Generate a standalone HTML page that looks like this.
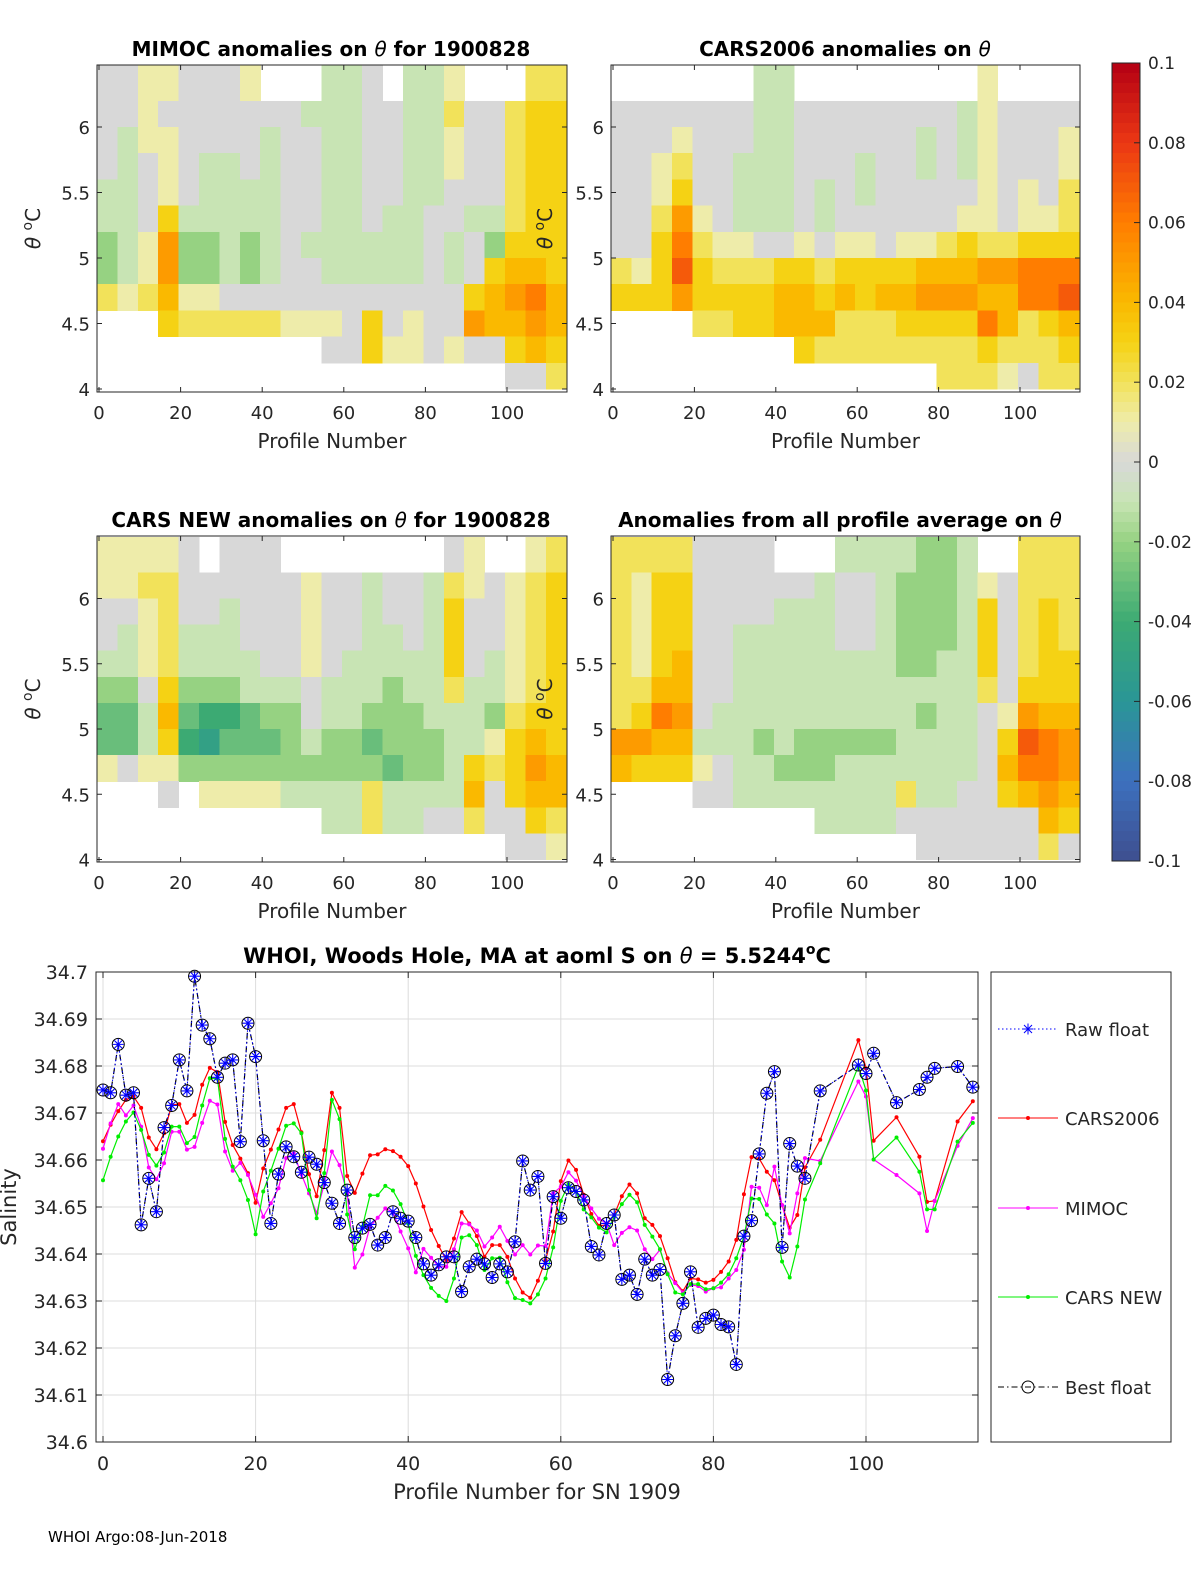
<!DOCTYPE html>
<html><head><meta charset="utf-8">
<style>
html,body{margin:0;padding:0;background:#fff;}
svg{display:block;font-family:"DejaVu Sans","Liberation Sans",sans-serif;}
</style></head>
<body>
<svg id="fig" width="1200" height="1575" viewBox="0 0 1200 1575" xmlns="http://www.w3.org/2000/svg"></svg>
<script>
const N=null;
const mimocGrid=[
[0,0,1,1,0,0,0,1,N,N,N,-1,-1,0,N,-1,-1,1,N,N,N,2,2],
[0,0,1,0,0,0,0,0,0,0,-1,-1,-1,0,0,-1,-1,2,0,0,2,3,3],
[0,-1,1,1,0,0,0,0,-1,0,0,-1,-1,0,0,-1,-1,1,0,0,2,3,3],
[0,-1,0,1,0,-1,-1,0,-1,0,0,-1,-1,0,0,-1,-1,1,0,0,2,3,3],
[-1,-1,0,1,0,-1,-1,-1,-1,0,0,-1,-1,0,0,-1,-1,0,0,0,2,3,3],
[-1,-1,0,3,-1,-1,-1,-1,-1,0,0,-1,-1,0,-1,-1,0,0,-1,-1,2,3,3],
[-2,-1,1,5,-2,-2,-1,-2,-1,0,-1,-1,-1,-1,-1,-1,0,-1,0,-2,3,3,3],
[-2,-1,1,5,-2,-2,-1,-2,-1,0,0,-1,-1,-1,-1,-1,0,-1,0,3,4,4,3],
[2,1,2,4,1,1,0,0,0,0,0,0,0,0,0,0,0,0,3,4,5,6,4],
[N,N,N,3,2,2,2,2,2,1,1,1,0,3,0,1,0,0,5,4,4,5,4],
[N,N,N,N,N,N,N,N,N,N,N,0,0,3,1,1,0,1,0,0,3,4,3],
[N,N,N,N,N,N,N,N,N,N,N,N,N,N,N,N,N,N,N,N,0,0,2]];
const cars2006Grid=[
[N,N,N,N,N,N,N,-1,-1,N,N,N,N,N,N,N,N,N,1,N,N,N,N],
[0,0,0,0,0,0,0,-1,-1,0,0,0,0,0,0,0,0,-1,1,0,0,0,0],
[0,0,0,1,0,0,0,-1,-1,0,0,0,0,0,0,-1,0,-1,1,0,0,0,1],
[0,0,1,2,0,0,-1,-1,-1,0,0,0,-1,0,0,-1,0,-1,1,0,0,0,1],
[0,0,1,3,0,0,-1,-1,-1,0,-1,0,-1,0,0,0,0,0,1,0,1,0,2],
[0,0,2,5,1,0,-1,-1,-1,0,-1,0,0,0,0,0,0,1,1,0,1,1,2],
[0,0,3,6,2,1,1,0,0,1,0,1,1,0,1,1,2,3,2,2,3,3,3],
[2,1,3,7,3,2,2,2,3,3,2,3,3,3,3,4,4,4,5,5,6,6,6],
[3,3,3,5,3,3,3,3,4,4,3,4,3,4,4,5,5,5,4,4,6,6,7],
[N,N,N,N,2,2,3,3,4,4,4,2,2,2,3,3,3,3,6,4,2,3,4],
[N,N,N,N,N,N,N,N,N,3,2,2,2,2,2,2,2,2,3,2,2,2,3],
[N,N,N,N,N,N,N,N,N,N,N,N,N,N,N,N,2,2,2,1,0,2,2]];
const carsNewGrid=[
[1,1,1,1,0,N,0,0,0,N,N,N,N,N,N,N,N,0,1,N,N,1,2],
[1,1,2,2,0,0,0,0,0,0,1,0,0,-1,0,0,-1,2,1,0,1,2,3],
[0,0,1,2,0,0,-1,0,0,0,1,0,0,-1,0,0,-1,3,0,0,1,2,3],
[0,-1,1,2,-1,-1,-1,0,0,0,1,0,0,-1,-1,0,-1,3,0,0,1,2,3],
[-1,-1,1,2,-1,-1,-1,-1,0,0,1,0,-1,-1,-1,-1,-1,3,0,-1,1,2,3],
[-2,-2,0,3,-2,-2,-2,-1,-1,-1,0,-1,-1,-1,-2,-1,-1,2,-1,-1,1,2,3],
[-3,-3,-1,4,-3,-4,-4,-3,-2,-2,0,-1,-1,-2,-2,-2,-1,-1,-1,-2,2,3,3],
[-3,-3,-1,3,-4,-5,-3,-3,-3,-2,-1,-2,-2,-3,-2,-2,-2,-1,-1,1,3,4,3],
[1,0,1,1,-2,-2,-2,-2,-2,-2,-2,-2,-2,-2,-3,-2,-2,-1,3,2,3,5,4],
[N,N,N,0,N,1,1,1,1,-1,-1,-1,-1,2,-1,-1,-1,-1,4,0,3,4,4],
[N,N,N,N,N,N,N,N,N,N,N,-1,-1,2,-1,-1,0,0,2,0,0,3,2],
[N,N,N,N,N,N,N,N,N,N,N,N,N,N,N,N,N,N,N,N,0,0,1]];
const allAvgGrid=[
[2,2,2,2,0,0,0,0,N,N,N,-1,-1,-1,-1,-2,-2,-1,N,N,2,2,2],
[2,1,3,3,0,0,0,0,0,0,-1,0,0,-1,-2,-2,-2,-1,1,0,2,2,2],
[2,1,3,3,0,0,0,0,-1,-1,-1,0,0,-1,-2,-2,-2,-1,3,0,2,3,2],
[2,1,3,3,0,0,-1,-1,-1,-1,-1,0,0,-1,-2,-2,-2,-1,3,0,2,3,2],
[2,1,3,4,0,0,-1,-1,-1,-1,-1,-1,-1,-1,-2,-2,-1,-1,3,0,2,3,3],
[2,2,4,4,0,0,-1,-1,-1,-1,-1,-1,-1,-1,-1,-1,-1,-1,2,0,3,3,3],
[2,3,6,5,0,-1,-1,-1,-1,-1,-1,-1,-1,-1,-1,-2,-1,-1,0,1,5,4,4],
[5,5,4,4,-1,-1,-1,-2,-1,-2,-2,-2,-2,-2,-1,-1,-1,-1,0,3,7,6,5],
[4,3,3,3,1,0,-1,-1,-2,-2,-2,-1,-1,-1,-1,-1,-1,-1,0,4,6,6,5],
[N,N,N,N,0,0,-1,-1,-1,-1,-1,-1,-1,-1,2,-1,-1,0,0,3,4,5,4],
[N,N,N,N,N,N,N,N,N,N,-1,-1,-1,-1,0,0,0,0,0,0,0,4,3],
[N,N,N,N,N,N,N,N,N,N,N,N,N,N,N,0,0,0,0,0,0,2,0]];
const heatTicksX=[0,20,40,60,80,100];
const heatTicksY=[4,4.5,5,5.5,6];
const cbTicks=[0.1,0.08,0.06,0.04,0.02,0,-0.02,-0.04,-0.06,-0.08,-0.1];

const profiles=[0,1,2,3,4,5,6,7,8,9,10,11,12,13,14,15,16,17,18,19,20,21,22,23,24,25,26,27,28,29,30,31,32,33,34,35,36,37,38,39,40,41,42,43,44,45,46,47,48,49,50,51,52,53,54,55,56,57,58,59,60,61,62,63,64,65,66,67,68,69,70,71,72,73,74,75,76,77,78,79,80,81,82,83,84,85,86,87,88,89,90,91,92,94,99,100,101,104,107,108,109,112,114];
const cars2006=[34.664,34.6675,34.6704,34.6728,34.6735,34.6711,34.6648,34.6623,34.6657,34.6717,
34.6719,34.6679,34.6696,34.676,34.6796,34.6787,34.6681,34.6632,34.6603,34.6572,
34.6509,34.6582,34.6622,34.6665,34.6711,34.6719,34.6659,34.657,34.6523,34.6621,
34.6743,34.6711,34.6566,34.653,34.6571,34.661,34.6612,34.6623,34.6619,34.6607,
34.6587,34.655,34.6501,34.6451,34.6417,34.6387,34.6433,34.6489,34.6465,34.6438,
34.6394,34.6419,34.6419,34.6394,34.6348,34.6318,34.6307,34.6343,
34.6387,34.6448,34.6555,34.6599,34.6579,34.6526,34.6485,34.646,34.6462,34.6483,34.6523,34.6548,34.6529,34.6476,34.6462,34.6438,34.6391,34.634,34.6321,34.6348,34.6346,34.6339,34.6345,34.6362,34.6384,34.643,34.6527,34.6606,34.6603,34.6575,34.6557,34.6504,34.6456,34.6483,34.6584,
34.6643,34.6855,34.6795,34.6641,34.6691,34.6607,34.6511,34.6513,34.6682,34.6725];
const mimoc=[34.6624,34.6678,34.6719,34.6695,34.6716,34.6671,34.6584,34.6559,34.6593,34.666,
34.666,34.6622,34.6628,34.6679,34.6726,34.6718,34.6618,34.6577,34.6594,34.6568,
34.6526,34.6479,34.6508,34.654,34.6604,34.6614,34.657,34.6529,34.6487,34.6549,
34.6618,34.6589,34.6529,34.6371,34.6399,34.6458,34.6477,34.6497,34.6489,34.6448,
34.6412,34.6361,34.6411,34.6392,34.6373,34.6373,34.641,34.6465,34.6463,34.645,
34.6416,34.6435,34.6458,34.6428,34.6399,34.6419,34.6399,34.6418,
34.6417,34.6529,34.6543,34.6574,34.6556,34.6523,34.6497,34.6475,34.6465,34.6419,34.6445,34.6457,34.645,34.641,34.6389,34.6409,34.6359,34.6338,34.6318,34.6334,34.6332,34.632,34.6327,34.6329,34.6348,34.6366,34.6409,34.6543,34.6541,34.6504,34.6586,34.6504,34.6444,34.6529,34.6604,
34.6598,34.6767,34.6735,34.6601,34.6568,34.6529,34.6449,34.6513,34.663,34.6689];
const carsNew=[34.6557,34.6607,34.665,34.6682,34.6701,34.6664,34.6611,34.6588,34.6616,34.6671,
34.6671,34.6636,34.6649,34.6716,34.6774,34.6773,34.6645,34.6586,34.6557,34.6515,
34.6442,34.6533,34.6577,34.6624,34.6673,34.6678,34.6657,34.6536,34.6476,34.6572,
34.6728,34.6687,34.6484,34.641,34.6458,34.6525,34.6525,34.6545,34.6535,34.6506,
34.6465,34.6396,34.6355,34.6328,34.6311,34.63,34.6348,34.6435,34.644,34.6419,
34.6366,34.6391,34.6392,34.634,34.6306,34.6302,34.6295,
34.6314,34.6348,34.6414,34.6513,34.6548,34.6533,34.6495,34.6478,34.6456,34.6446,34.6479,34.6506,34.6526,34.651,34.6462,34.6437,34.641,34.6357,34.6318,34.6314,34.6336,34.6336,34.6325,34.6327,34.6339,34.6357,34.6391,34.6437,34.6518,34.6517,34.6484,34.6465,34.6384,34.635,34.6416,34.6516,
34.6593,34.68,34.6748,34.6601,34.6648,34.6575,34.6495,34.6495,34.6639,34.6679];
const bestFloat=[34.6749,34.6743,34.6846,34.6738,34.6743,34.6462,34.6561,34.649,34.6669,34.6716,
34.6813,34.6747,34.6991,34.6887,34.6858,34.6776,34.6806,34.6813,34.6639,34.6891,
34.682,34.6641,34.6465,34.657,34.6628,34.6607,34.6574,34.6606,34.6591,34.6552,
34.6508,34.6465,34.6536,34.6435,34.6455,34.6463,34.6419,34.6435,34.649,34.6476,
34.647,34.6435,34.6379,34.6355,34.6377,34.6394,34.6394,34.632,34.6373,34.6389,
34.6379,34.635,34.6379,34.6362,34.6426,34.6598,34.6536,34.6565,
34.638,34.6522,34.6476,34.6541,34.6533,34.6515,34.6416,34.6398,34.6465,34.6483,34.6346,34.6355,34.6314,34.6389,34.6355,34.6367,34.6133,34.6226,34.6295,34.6362,34.6244,34.6263,34.627,34.625,34.6245,34.6165,34.6438,34.6471,34.6613,34.6742,34.6788,34.6414,34.6635,34.6587,34.6561,
34.6747,34.6802,34.6784,34.6827,34.6722,34.675,34.6776,34.6795,34.6799,34.6755];
const rawFloat=bestFloat.slice();
const salTicksY=[34.6,34.61,34.62,34.63,34.64,34.65,34.66,34.67,34.68,34.69,34.7];
const salTicksX=[0,20,40,60,80,100];

const NS="http://www.w3.org/2000/svg";
const svg=document.getElementById('fig');
function mk(tag,attrs,parent){const e=document.createElementNS(NS,tag);for(const k in attrs)e.setAttribute(k,attrs[k]);(parent||svg).appendChild(e);return e;}
function txt(s,x,y,size,anchor,parent,weight){const t=mk('text',{x:x,y:y,'font-size':size,'text-anchor':anchor||'start','fill':'#262626'},parent);if(weight)t.setAttribute('font-weight',weight);t.textContent=s;return t;}

const cstops=[[-10,[62,79,143]],[-8,[61,112,190]],[-6,[42,150,150]],[-4,[60,170,115]],[-2,[150,210,130]],[-1,[200,228,180]],[0,[216,216,216]],[1,[238,236,170]],[2,[242,226,90]],[3,[245,210,20]],[4,[250,185,0]],[6,[255,125,0]],[8,[235,55,20]],[10,[180,0,20]]];
function cmap(v){if(v<=cstops[0][0])return 'rgb('+cstops[0][1]+')';for(let i=1;i<cstops.length;i++){if(v<=cstops[i][0]){const a=cstops[i-1],b=cstops[i];const t=(v-a[0])/(b[0]-a[0]);const c=a[1].map((x,j)=>Math.round(x+(b[1][j]-x)*t));return 'rgb('+c.join(',')+')';}}return 'rgb('+cstops[cstops.length-1][1]+')';}

function heatPanel(name,grid,box,x0,x100,y5,pxPerDeg,titleA,titleB,titleX,ylabX){
  const g=mk('g',{},svg);
  
  
  const sx=p=>x0+(x100-x0)*p/100;
  const sy=t=>y5-pxPerDeg*(t-5);
  const cells=mk('g',{'shape-rendering':'crispEdges'},g);
  
  
  grid.forEach((row,r)=>{
    const tTop=r===0?6.47:6.4-0.2*r;
    const tBot=6.4-0.2*(r+1);
    row.forEach((v,c)=>{
      if(v===null)return;
      const xl=sx(5*c-0.5),xr=Math.min(sx(5*c+4.5),box[2]);
      const rc=mk('rect',{x:xl,y:sy(tTop),width:xr-xl+0.6,height:sy(tBot)-sy(tTop)+0.6,fill:cmap(v)},cells);
      
      
    });
  });
  const fr=mk('rect',{x:box[0],y:box[1],width:box[2]-box[0],height:box[3]-box[1],fill:'none',stroke:'#262626','stroke-width':1},g);
  
  
  heatTicksX.forEach(p=>{const x=sx(p);mk('line',{x1:x,y1:box[3],x2:x,y2:box[3]-5,stroke:'#262626'},g);mk('line',{x1:x,y1:box[1],x2:x,y2:box[1]+5,stroke:'#262626'},g);
    const t=txt(String(p),x,box[3]+27,18,'middle',g);});
  heatTicksY.forEach(v=>{const y=sy(v);mk('line',{x1:box[0],y1:y,x2:box[0]+5,y2:y,stroke:'#262626'},g);mk('line',{x1:box[2],y1:y,x2:box[2]-5,y2:y,stroke:'#262626'},g);
    const t=txt(String(v),box[0]-7,y+7,18,'end',g);});
  const xl=txt('Profile Number',(box[0]+box[2])/2,box[3]+56,20,'middle',g);
  
  const tt=mk('text',{x:titleX,y:box[1]-9,'font-size':20,'text-anchor':'middle','font-weight':'bold',fill:'#000'},g);
  const s1=mk('tspan',{},tt);s1.textContent=titleA;
  const s2=mk('tspan',{'font-style':'italic','font-weight':'normal'},tt);s2.textContent='θ';
  const s3=mk('tspan',{},tt);s3.textContent=titleB;
  
  const yl=mk('text',{x:0,y:0,'font-size':20,'text-anchor':'middle',fill:'#262626',transform:'translate('+ylabX+','+((box[1]+box[3])/2)+') rotate(-90)'},g);
  yl.innerHTML='<tspan font-style="italic">θ</tspan> <tspan dy="-8" font-size="14">o</tspan><tspan dy="8">C</tspan>';
  
}
heatPanel('mimoc-panel',mimocGrid,[97,65,567,392],99,507,258,131,'MIMOC anomalies on ','  for 1900828',331,40);
heatPanel('cars2006-panel',cars2006Grid,[611,65,1080,392],613,1020,258,131,'CARS2006 anomalies on ','',845,552);
heatPanel('cars-new-panel',carsNewGrid,[97,536,567,862],99,507,729,130.5,'CARS NEW anomalies on ',' for 1900828',331,40);
heatPanel('all-average-panel',allAvgGrid,[611,536,1080,862],613,1020,729,130.5,'Anomalies from all profile average on ','',840,552);

(function(){
  const g=mk('g',{},svg);
  
  
  const top=63,bot=861,n=80;
  for(let i=0;i<n;i++){const v=10-20*(i+0.5)/n;mk('rect',{x:1112,y:top+(bot-top)*i/n,width:28,height:(bot-top)/n+0.6,fill:cmap(v),'shape-rendering':'crispEdges'},g);}
  mk('rect',{x:1112,y:top,width:28,height:bot-top,fill:'none',stroke:'#262626'},g);
  cbTicks.forEach(v=>{const y=top+(0.1-v)/0.2*(bot-top);mk('line',{x1:1134,y1:y,x2:1140,y2:y,stroke:'#262626'},g);
    const t=txt(String(v),1148,y+6,17,'start',g);});
})();

(function(){
  const g=mk('g',{},svg);
  
  
  const L=96,T=972,R=978,B=1442;
  const sx=p=>103+7.63*p;
  const sy=v=>B-(v-34.6)/0.1*(B-T);
  mk('rect',{x:L,y:T,width:R-L,height:B-T,fill:'#fff'},g);
  salTicksX.forEach(p=>{mk('line',{x1:sx(p),y1:T,x2:sx(p),y2:B,stroke:'#dcdcdc'},g);});
  salTicksY.forEach(v=>{mk('line',{x1:L,y1:sy(v),x2:R,y2:sy(v),stroke:'#dcdcdc'},g);});
  function series(name,vals,color,dash,width,dotR){
    const sg=mk('g',{},g);
    
    
    const pts=vals.map((v,i)=>sx(profiles[i])+','+sy(v)).join(' ');
    const pl=mk('polyline',{points:pts,fill:'none',stroke:color,'stroke-width':width},sg);
    if(dash)pl.setAttribute('stroke-dasharray',dash);
    if(dotR)vals.forEach((v,i)=>{const c=mk('circle',{cx:sx(profiles[i]),cy:sy(v),r:dotR,fill:color},sg);});
    return sg;
  }
  series('cars2006-line',cars2006,'#ff0000',null,1.2,2);
  series('mimoc-line',mimoc,'#ff00ff',null,1.2,2);
  series('cars-new-line',carsNew,'#00ee00',null,1.2,2);
  const bf=series('best-float-line',bestFloat,'#000','6,3,1.5,3',1.2,0);
  bestFloat.forEach((v,i)=>{const c=mk('circle',{cx:sx(profiles[i]),cy:sy(v),r:6,fill:'none',stroke:'#000','stroke-width':1},bf);});
  const rf=series('raw-float-line',rawFloat,'#0000ff','1.5,2.5',1,0);
  rawFloat.forEach((v,i)=>{const x=sx(profiles[i]),y=sy(v),s=5.5;
    const a=mk('path',{d:`M${x-s} ${y}H${x+s}M${x} ${y-s}V${y+s}M${x-s*0.7} ${y-s*0.7}L${x+s*0.7} ${y+s*0.7}M${x-s*0.7} ${y+s*0.7}L${x+s*0.7} ${y-s*0.7}`,stroke:'#0000ff','stroke-width':1.1,fill:'none'},rf);
    });
  mk('rect',{x:L,y:T,width:R-L,height:B-T,fill:'none',stroke:'#262626'},g);
  salTicksX.forEach(p=>{mk('line',{x1:sx(p),y1:B,x2:sx(p),y2:B-6,stroke:'#262626'},g);mk('line',{x1:sx(p),y1:T,x2:sx(p),y2:T+6,stroke:'#262626'},g);
    const t=txt(String(p),sx(p),B+28,19,'middle',g);});
  salTicksY.forEach(v=>{mk('line',{x1:L,y1:sy(v),x2:L+6,y2:sy(v),stroke:'#262626'},g);mk('line',{x1:R,y1:sy(v),x2:R-6,y2:sy(v),stroke:'#262626'},g);
    const t=txt(v.toFixed(v===34.6||v===34.7?1:2),L-8,sy(v)+7,19,'end',g);});
  const xt=txt('Profile Number for SN 1909',537,1499,21,'middle',g);
  
  const yt=mk('text',{x:0,y:0,'font-size':21,'text-anchor':'middle',fill:'#262626',transform:'translate(16,1207) rotate(-90)'},g);
  yt.textContent='Salinity';
  
  const tt=mk('text',{x:537,y:963,'font-size':21,'text-anchor':'middle','font-weight':'bold',fill:'#000'},g);
  tt.innerHTML='WHOI, Woods Hole, MA at aoml S on <tspan font-style="italic" font-weight="normal">θ</tspan> = 5.5244<tspan dy="-9" font-size="14">o</tspan><tspan dy="9">C</tspan>';
  
})();

(function(){
  const g=mk('g',{},svg);
  
  
  mk('rect',{x:991,y:972,width:180,height:470,fill:'#fff',stroke:'#262626'},g);
  const entries=[['Raw float',1029,'#0000ff','1.5,2.5','ast'],['CARS2006',1118,'#ff0000',null,'dot'],['MIMOC',1208,'#ff00ff',null,'dot'],['CARS NEW',1297,'#00ee00',null,'dot'],['Best float',1387,'#000','6,3,1.5,3','circ']];
  entries.forEach(e=>{
    const eg=mk('g',{},g);
    
    
    const l=mk('line',{x1:998,y1:e[1],x2:1058,y2:e[1],stroke:e[2],'stroke-width':1.1},eg);
    if(e[3])l.setAttribute('stroke-dasharray',e[3]);
    if(e[4]==='dot')mk('circle',{cx:1028,cy:e[1],r:2,fill:e[2]},eg);
    if(e[4]==='ast'){const x=1028,y=e[1],s=5.5;mk('path',{d:`M${x-s} ${y}H${x+s}M${x} ${y-s}V${y+s}M${x-4} ${y-4}L${x+4} ${y+4}M${x-4} ${y+4}L${x+4} ${y-4}`,stroke:'#0000ff',fill:'none'},eg);}
    if(e[4]==='circ')mk('circle',{cx:1028,cy:e[1],r:6,fill:'none',stroke:'#000'},eg);
    txt(e[0],1065,e[1]+7,18,'start',eg);
  });
})();

const foot=txt('WHOI Argo:08-Jun-2018',48,1542,15,'start');
foot.setAttribute('fill','#000');


</script>
</body></html>
